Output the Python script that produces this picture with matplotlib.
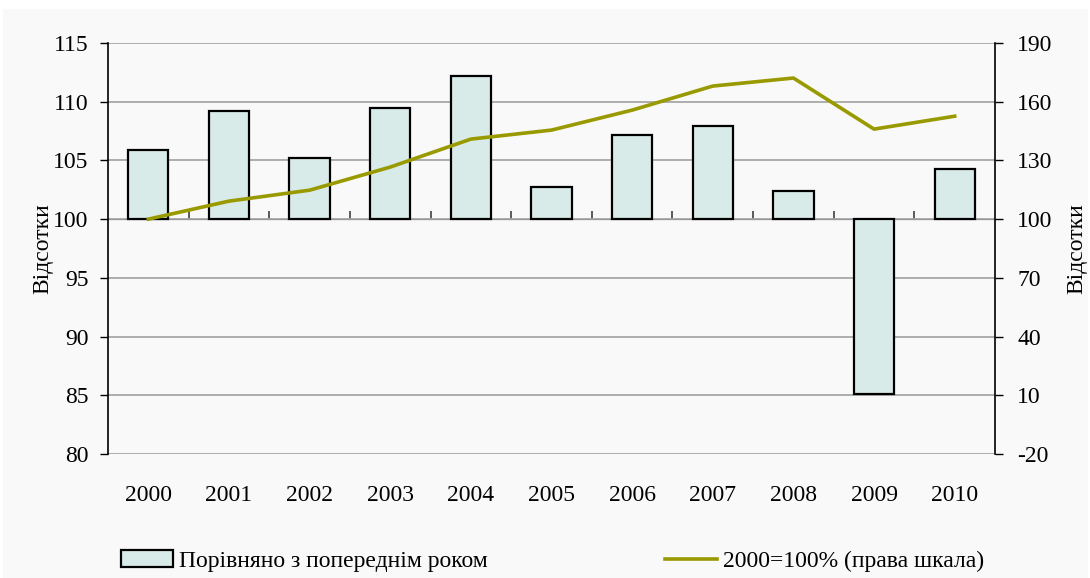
import numpy as np
import matplotlib.pyplot as plt
from matplotlib.patches import Rectangle

plt.rcParams['font.family'] = ['Liberation Serif', 'DejaVu Serif']
plt.rcParams['axes.unicode_minus'] = False

years = ["2000", "2001", "2002", "2003", "2004", "2005", "2006", "2007", "2008", "2009", "2010"]
prev_year = [105.9, 109.2, 105.2, 109.5, 112.2, 102.7, 107.2, 107.9, 102.4, 85.1, 104.3]
base_2000 = [100.0, 109.2, 114.8, 126.6, 140.9, 145.5, 155.7, 168.0, 172.1, 146.0, 152.6]

bar_label = "Порівняно з попереднім роком"
line_label = "2000=100% (права шкала)"
ylabel = "Відсотки"

fs = 17
x = np.arange(len(years))

fig = plt.figure(figsize=(10.9, 5.78), dpi=100, facecolor="white")
fig.patches.append(Rectangle((3 / 1090, 0), 1085 / 1090, 569 / 578,
                             transform=fig.transFigure, facecolor="#f9f9f9",
                             edgecolor="none", zorder=-10))

ax = fig.add_axes([108 / 1090, 1 - 454 / 578, 887 / 1090, 411 / 578])
ax.set_facecolor("none")

ax.bar(x, np.array(prev_year) - 100, bottom=100, width=0.5, color="#d8ebe9",
       edgecolor="black", linewidth=1.6, zorder=3, label=bar_label)

ax.set_xlim(-0.5, len(years) - 0.5)
ax.set_ylim(80, 115)
ax.set_yticks(np.arange(80, 116, 5))
ax.yaxis.grid(True, color="#a8a8a8", linewidth=1.3)
ax.set_axisbelow(True)
ax.set_xticks(x)
ax.set_xticklabels(years)
ax.tick_params(axis="x", length=0, pad=22, labelsize=fs)
ax.tick_params(axis="y", direction="out", length=6, width=1, pad=8, labelsize=fs)
for s in ["top", "right", "bottom"]:
    ax.spines[s].set_visible(False)
ax.spines["left"].set_linewidth(1.2)
ax.set_ylabel(ylabel, fontsize=fs, labelpad=0)

# category axis crosses at 100
sec = ax.secondary_xaxis((100 - 80) / 35)
sec.set_xticks(np.arange(0.5, len(years) - 1, 1))
sec.set_xticklabels([])
sec.tick_params(direction="out", length=6, width=1.2, color="#404040")
sec.spines["bottom"].set_color("#808080")
sec.spines["bottom"].set_linewidth(1.8)

ax2 = ax.twinx()
ax2.plot(x, base_2000, color="#999900", linewidth=2.6, zorder=4, label=line_label)
ax2.set_ylim(-20, 190)
ax2.set_yticks(np.arange(-20, 191, 30))
ax2.tick_params(axis="y", direction="out", length=6, width=1, pad=10, labelsize=fs)
for s in ["top", "left", "bottom"]:
    ax2.spines[s].set_visible(False)
ax2.spines["right"].set_linewidth(1.2)
ax2.set_ylabel(ylabel, fontsize=fs, labelpad=10)

h1, l1 = ax.get_legend_handles_labels()
h2, l2 = ax2.get_legend_handles_labels()
fig.legend(h1 + h2, l1 + l2, loc="center left", bbox_to_anchor=(121 / 1090, 1 - 561 / 578),
           ncol=2, frameon=False, fontsize=fs, handlelength=2.2, handleheight=0.72,
           handletextpad=0.25, columnspacing=7.5, borderpad=0, borderaxespad=0)

fig.savefig("out.png", dpi=100, facecolor=fig.get_facecolor())
